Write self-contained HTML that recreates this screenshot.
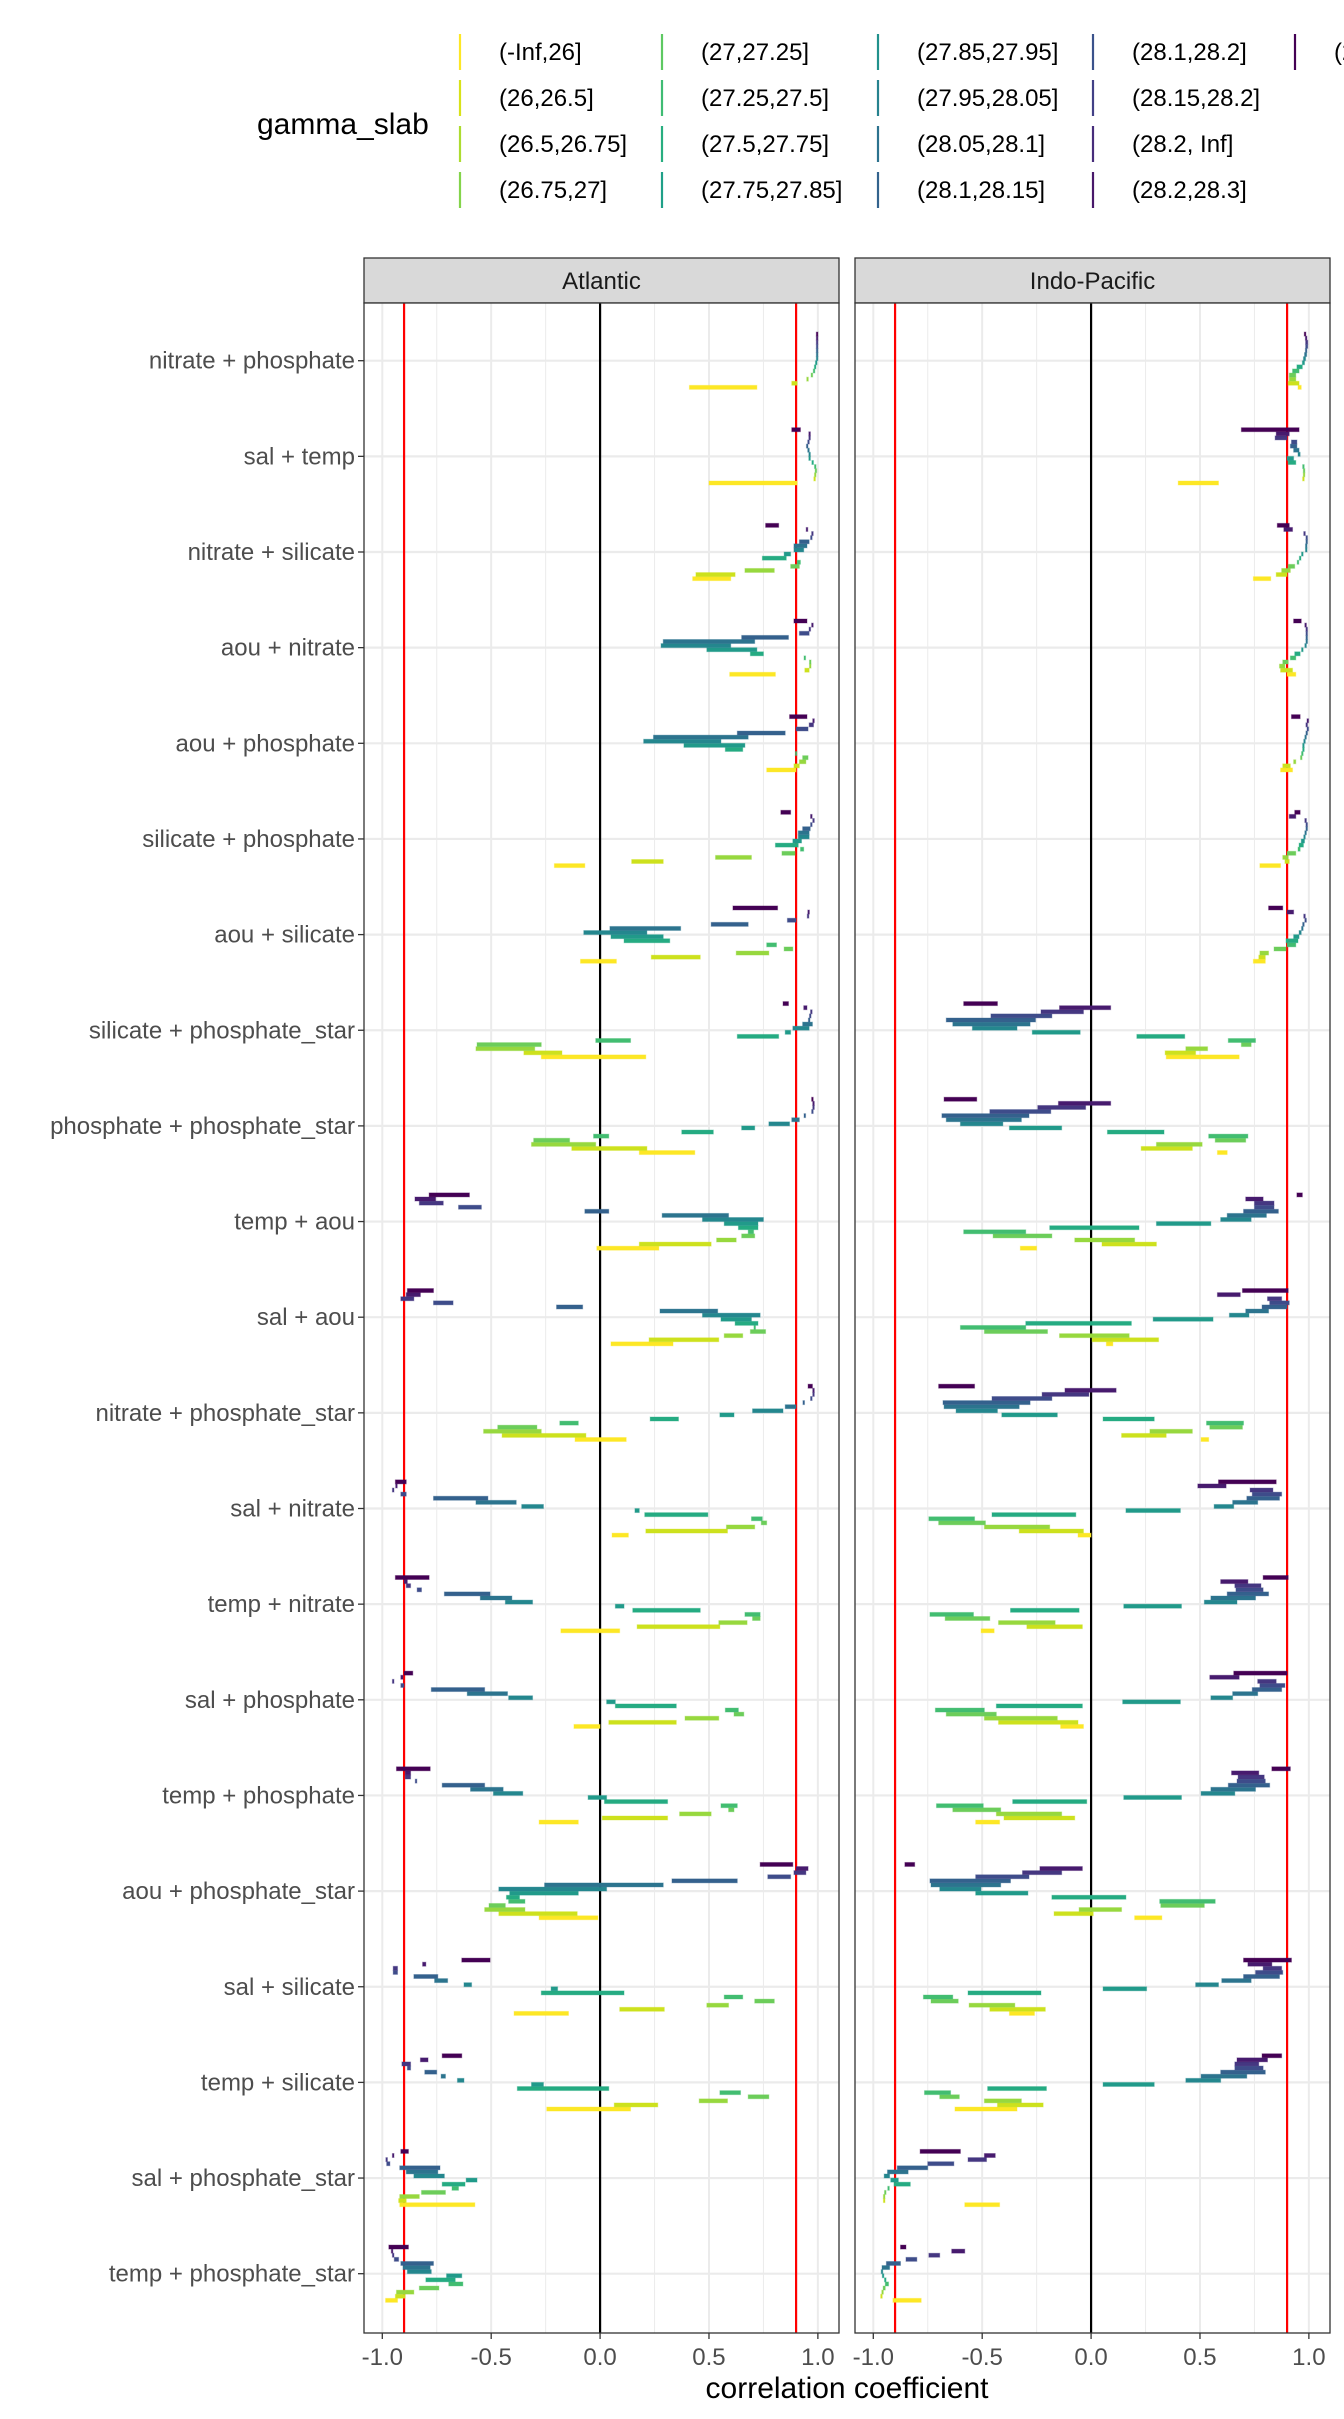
<!DOCTYPE html>
<html><head><meta charset="utf-8"><style>
html,body{margin:0;padding:0;background:#fff;}
svg{display:block;font-family:"Liberation Sans",Arial,sans-serif;}
</style></head><body>
<svg id="chart" width="1344" height="2419" viewBox="0 0 1344 2419" xmlns="http://www.w3.org/2000/svg">
<g id="legend"></g>
<g id="panels"></g>
<text x="847" y="2398" font-size="30" fill="#000" text-anchor="middle">correlation coefficient</text>
</svg>
<script>
const categories = ["nitrate + phosphate","sal + temp","nitrate + silicate","aou + nitrate","aou + phosphate","silicate + phosphate","aou + silicate","silicate + phosphate_star","phosphate + phosphate_star","temp + aou","sal + aou","nitrate + phosphate_star","sal + nitrate","temp + nitrate","sal + phosphate","temp + phosphate","aou + phosphate_star","sal + silicate","temp + silicate","sal + phosphate_star","temp + phosphate_star"];
const basins = ["Atlantic","Indo-Pacific"];
const legendLevels = ["(-Inf,26]","(26,26.5]","(26.5,26.75]","(26.75,27]","(27,27.25]","(27.25,27.5]","(27.5,27.75]","(27.75,27.85]","(27.85,27.95]","(27.95,28.05]","(28.05,28.1]","(28.1,28.15]","(28.1,28.2]","(28.15,28.2]","(28.2, Inf]","(28.2,28.3]","(28.3, Inf]"];
const legendColors = ["#fde725","#d8e219","#addc30","#84d44b","#5ec962","#3fbc73","#28ae80","#1fa088","#21918c","#26828e","#2c728e","#33638d","#3b528b","#424086","#472d7b","#48186a","#440154"];
const barColors = ["#fde725","#cde11d","#97d83e","#6ccd5a","#42bd71","#25ab82","#219a8a","#24878e","#2c748e","#34618d","#3e4c8a","#453781","#471b6e","#440154"];
const xTicks = [-1,-0.5,0,0.5,1];
const xTickLabels = ["-1.0","-0.5","0.0","0.5","1.0"];
const xMinor = [-0.75,-0.25,0.25,0.75];
const refLines = [-0.9,0.9];
const atlanticRanges = [
[[.41,.72],[.88,.905],[.95,.955],[.97,.975],[.98,.985],[.985,.99],[.99,.995],[.995,.998],[.995,.998],[.995,.998],[.995,.998],[.995,.998],[.995,.998],[.995,.998]],
[[.5,.905],[.985,.985],[.988,.988],[.991,.991],[.988,.988],[.976,.976],[.962,.962],[.962,.962],[.957,.957],[.951,.951],[.957,.957],[.962,.962],[.962,.962],[.88,.92]],
[[.425,.6],[.44,.62],[.665,.8],[.875,.915],[.905,.92],[.745,.855],[.845,.875],[.89,.935],[.89,.95],[.915,.96],[.97,.97],[.975,.975],[.95,.95],[.76,.82]],
[[.595,.805],[.94,.96],[.965,.965],[.965,.965],[.94,.94],[.69,.75],[.49,.72],[.28,.6],[.29,.71],[.65,.865],[.915,.96],[.963,.963],[.975,.975],[.89,.95]],
[[.765,.9],[.89,.915],[.915,.945],[.93,.955],[.9,.9],[.575,.655],[.385,.665],[.2,.555],[.245,.68],[.63,.85],[.9,.955],[.96,.98],[.98,.98],[.87,.95]],
[[-.21,-.07],[.145,.29],[.53,.695],[.835,.895],[.92,.935],[.805,.91],[.885,.925],[.91,.96],[.91,.96],[.93,.965],[.97,.97],[.98,.98],[.97,.97],[.83,.875]],
[[-.09,.075],[.235,.46],[.625,.775],[.845,.885],[.765,.81],[.11,.32],[.05,.29],[-.075,.215],[.045,.37],[.51,.68],[.86,.9],[.955,.955],[.955,.96],[.61,.815]],
[[-.27,.21],[-.35,-.175],[-.57,-.3],[-.565,-.27],[-.02,.14],[.63,.82],[.85,.875],[.885,.96],[.93,.975],[.96,.96],[.965,.965],[.97,.97],[.935,.95],[.84,.865]],
[[.18,.435],[-.13,.215],[-.315,-.02],[-.305,-.14],[-.03,.04],[.375,.52],[.65,.71],[.775,.87],[.88,.915],[.94,.94],[.975,.975],[.98,.98],[.98,.98],[.975,.975]],
[[-.015,.27],[.18,.51],[.535,.625],[.65,.71],[.68,.705],[.635,.725],[.57,.725],[.47,.75],[.285,.59],[-.07,.04],[-.65,-.545],[-.83,-.72],[-.85,-.755],[-.785,-.6]],
[[.05,.335],[.225,.545],[.57,.655],[.69,.76],[.71,.71],[.62,.725],[.555,.695],[.47,.735],[.275,.54],[-.2,-.08],[-.765,-.675],[-.915,-.855],[-.89,-.825],[-.885,-.765]],
[[-.115,.12],[-.45,-.065],[-.535,-.27],[-.47,-.29],[-.185,-.1],[.23,.36],[.55,.615],[.7,.84],[.85,.9],[.935,.935],[.97,.97],[.98,.98],[.98,.98],[.955,.975]],
[[.055,.13],[.21,.585],[.58,.71],[.74,.765],[.695,.745],[.205,.495],[.16,.18],[-.36,-.26],[-.57,-.385],[-.765,-.515],[-.915,-.89],[-.95,-.95],[-.935,-.935],[-.94,-.89]],
[[-.18,.09],[.17,.55],[.545,.675],[.7,.735],[.665,.735],[.15,.46],[.07,.11],[-.435,-.31],[-.55,-.405],[-.715,-.505],[-.84,-.82],[-.89,-.87],[-.9,-.885],[-.94,-.785]],
[[-.12,0],[.04,.35],[.39,.545],[.615,.66],[.575,.635],[.07,.35],[.03,.07],[-.42,-.31],[-.61,-.425],[-.775,-.53],[-.915,-.9],[-.95,-.95],[-.915,-.905],[-.9,-.86]],
[[-.28,-.1],[.01,.31],[.365,.51],[.59,.615],[.555,.63],[.02,.31],[-.055,.03],[-.49,-.355],[-.595,-.445],[-.725,-.53],[-.845,-.845],[-.895,-.87],[-.895,-.87],[-.935,-.78]],
[[-.28,-.01],[-.465,-.105],[-.53,-.345],[-.51,-.435],[-.42,-.345],[-.43,-.37],[-.415,-.1],[-.465,.03],[-.255,.29],[.33,.63],[.77,.875],[.89,.945],[.9,.955],[.735,.885]],
[[-.395,-.145],[.09,.295],[.49,.59],[.71,.8],[.57,.655],[-.27,.11],[-.225,-.195],[-.625,-.59],[-.76,-.7],[-.855,-.745],[-.95,-.93],[-.95,-.93],[-.815,-.8],[-.635,-.505]],
[[-.245,.14],[.065,.265],[.455,.585],[.68,.775],[.55,.645],[-.38,.04],[-.315,-.26],[-.655,-.625],[-.73,-.71],[-.805,-.75],[-.885,-.87],[-.91,-.87],[-.825,-.79],[-.725,-.635]],
[[-.92,-.575],[-.925,-.89],[-.92,-.83],[-.82,-.71],[-.68,-.65],[-.725,-.62],[-.615,-.565],[-.855,-.715],[-.89,-.745],[-.92,-.735],[-.98,-.965],[-.98,-.98],[-.95,-.95],[-.915,-.88]],
[[-.985,-.93],[-.94,-.895],[-.935,-.855],[-.83,-.74],[-.695,-.63],[-.8,-.665],[-.705,-.635],[-.885,-.775],[-.905,-.78],[-.915,-.765],[-.945,-.925],[-.95,-.95],[-.955,-.955],[-.97,-.88]]
];
const indoRanges = [
[[.95,.965],[.905,.955],[.91,.94],[.91,.94],[.925,.955],[.945,.97],[.97,.98],[.975,.985],[.98,.99],[.985,.99],[.985,.995],[.985,.995],[.985,.99],[.98,.985]],
[[.4,.585],[.975,.975],[.978,.978],[.978,.978],[.975,.975],[.905,.94],[.9,.93],[.95,.96],[.93,.955],[.915,.945],[.92,.945],[.845,.9],[.85,.91],[.69,.955]],
[[.745,.825],[.85,.9],[.875,.915],[.905,.935],[.95,.95],[.96,.96],[.97,.97],[.988,.988],[.988,.988],[.99,.99],[.99,.99],[.98,.98],[.885,.925],[.855,.91]],
[[.9,.94],[.87,.925],[.865,.89],[.88,.905],[.915,.94],[.935,.96],[.97,.97],[.985,.985],[.99,.99],[.99,.99],[.99,.99],[.99,.99],[.985,.985],[.93,.965]],
[[.87,.925],[.88,.915],[.93,.94],[.965,.965],[.97,.97],[.975,.975],[.975,.975],[.98,.98],[.985,.985],[.99,.99],[.995,.995],[.99,.99],[.995,.995],[.92,.96]],
[[.775,.87],[.89,.91],[.88,.905],[.9,.94],[.95,.96],[.955,.975],[.965,.98],[.98,.98],[.985,.985],[.99,.99],[.99,.99],[.985,.985],[.91,.94],[.935,.96]],
[[.745,.8],[.77,.8],[.775,.815],[.84,.895],[.9,.94],[.895,.95],[.93,.955],[.955,.965],[.97,.97],[.975,.975],[.985,.985],[.98,.98],[.9,.93],[.815,.88]],
[[.345,.68],[.34,.48],[.435,.535],[.69,.735],[.63,.755],[.21,.43],[-.27,-.05],[-.545,-.34],[-.635,-.28],[-.665,-.255],[-.46,-.18],[-.23,-.035],[-.145,.09],[-.585,-.43]],
[[.58,.625],[.23,.465],[.3,.51],[.57,.71],[.54,.72],[.075,.335],[-.375,-.135],[-.6,-.405],[-.665,-.32],[-.685,-.285],[-.465,-.185],[-.245,-.025],[-.15,.09],[-.675,-.525]],
[[-.325,-.25],[.05,.3],[-.075,.2],[-.45,-.18],[-.585,-.3],[-.19,.22],[.3,.55],[.595,.735],[.625,.805],[.7,.86],[.75,.84],[.75,.84],[.71,.79],[.945,.97]],
[[.07,.1],[.005,.31],[-.145,.175],[-.49,-.2],[-.6,-.3],[-.3,.185],[.285,.56],[.635,.725],[.71,.815],[.785,.9],[.82,.91],[.81,.875],[.58,.685],[.695,.905]],
[[.505,.54],[.14,.345],[.27,.465],[.545,.695],[.53,.7],[.055,.29],[-.41,-.155],[-.62,-.43],[-.675,-.33],[-.68,-.28],[-.455,-.18],[-.225,-.01],[-.12,.115],[-.7,-.535]],
[[-.06,0],[-.33,-.035],[-.49,-.19],[-.7,-.485],[-.745,-.535],[-.455,-.07],[.16,.41],[.565,.655],[.65,.765],[.715,.865],[.74,.875],[.73,.835],[.49,.62],[.585,.85]],
[[-.505,-.445],[-.295,-.04],[-.425,-.165],[-.67,-.465],[-.74,-.54],[-.37,-.055],[.15,.415],[.52,.67],[.55,.755],[.625,.815],[.665,.79],[.66,.78],[.595,.72],[.79,.905]],
[[-.14,-.035],[-.425,-.06],[-.49,-.155],[-.665,-.435],[-.715,-.49],[-.435,-.04],[.145,.41],[.55,.65],[.65,.765],[.74,.875],[.775,.89],[.765,.85],[.545,.68],[.655,.9]],
[[-.53,-.42],[-.4,-.075],[-.435,-.135],[-.635,-.415],[-.71,-.495],[-.36,-.02],[.15,.415],[.505,.66],[.55,.755],[.63,.82],[.67,.8],[.675,.795],[.645,.77],[.83,.915]],
[[.2,.325],[-.17,.01],[-.055,.14],[.32,.52],[.315,.57],[-.18,.16],[-.53,-.29],[-.695,-.505],[-.735,-.415],[-.74,-.37],[-.53,-.285],[-.315,-.135],[-.235,-.04],[-.855,-.81]],
[[-.375,-.26],[-.465,-.21],[-.56,-.35],[-.735,-.61],[-.77,-.635],[-.565,-.23],[.055,.255],[.48,.585],[.6,.735],[.7,.865],[.755,.88],[.79,.875],[.72,.83],[.7,.92]],
[[-.625,-.34],[-.43,-.22],[-.49,-.32],[-.695,-.605],[-.765,-.645],[-.475,-.205],[.055,.29],[.435,.595],[.505,.715],[.595,.8],[.66,.79],[.66,.77],[.67,.81],[.785,.875]],
[[-.58,-.42],[-.95,-.95],[-.95,-.95],[-.945,-.945],[-.93,-.93],[-.905,-.83],[-.92,-.885],[-.95,-.925],[-.935,-.84],[-.89,-.75],[-.75,-.63],[-.565,-.48],[-.49,-.44],[-.785,-.6]],
[[-.91,-.78],[-.965,-.96],[-.96,-.955],[-.955,-.945],[-.945,-.93],[-.945,-.945],[-.955,-.955],[-.96,-.96],[-.96,-.925],[-.94,-.875],[-.85,-.8],[-.745,-.695],[-.64,-.58],[-.875,-.85]]
];

const NS = "http://www.w3.org/2000/svg";
function mk(tag, attrs, parent){const e=document.createElementNS(NS,tag);for(const k in attrs)e.setAttribute(k,attrs[k]);parent.appendChild(e);return e;}
const panelLeft=[364,855], panelW=475, panelTop=303, panelBottom=2333;
const xMin=-1.084, xMax=1.097;
function xScale(p,v){return panelLeft[p]+(v-xMin)/(xMax-xMin)*panelW;}
const rowStart=360.7, rowStep=95.65, levelStep=4.1;
function yRow(r){return rowStart+rowStep*r;}
function yBar(r,k){return yRow(r)+(6.5-k)*levelStep;}

const lg=document.getElementById('legend');
const lt=mk('text',{x:257,y:134,'font-size':30,fill:'#000'},lg);
lt.textContent='gamma_slab';


const keyX=[460,662,878,1093,1295], rowY=[52,98,144,190];
legendLevels.forEach((lab,i)=>{
  const c=Math.floor(i/4), r=i%4;
  const g=mk('g',{},lg);
  
  
  mk('line',{x1:keyX[c],x2:keyX[c],y1:rowY[r]-18,y2:rowY[r]+18,stroke:legendColors[i],'stroke-width':2.2},g);
  const t=mk('text',{x:keyX[c]+39,y:rowY[r]+8,'font-size':24,fill:'#000'},g);
  t.textContent=lab;
});

const pg=document.getElementById('panels');
const allRanges=[atlanticRanges,indoRanges];
basins.forEach((b,p)=>{
  const L=panelLeft[p];
  const g=mk('g',{},pg);
  
  
  const st=mk('rect',{x:L,y:258,width:panelW,height:45,fill:'#d9d9d9',stroke:'#333','stroke-width':1.3},g);
  
  
  const stt=mk('text',{x:L+panelW/2,y:289,'font-size':24,fill:'#1a1a1a','text-anchor':'middle'},g);
  stt.textContent=b;
  
  
  mk('rect',{x:L,y:panelTop,width:panelW,height:panelBottom-panelTop,fill:'#fff'},g);
  xMinor.forEach(v=>mk('line',{x1:xScale(p,v),x2:xScale(p,v),y1:panelTop,y2:panelBottom,stroke:'#ebebeb','stroke-width':1},g));
  xTicks.forEach(v=>mk('line',{x1:xScale(p,v),x2:xScale(p,v),y1:panelTop,y2:panelBottom,stroke:'#ebebeb','stroke-width':2},g));
  categories.forEach((c,r)=>mk('line',{x1:L,x2:L+panelW,y1:yRow(r),y2:yRow(r),stroke:'#ebebeb','stroke-width':2.2},g));
  const z=mk('line',{x1:xScale(p,0),x2:xScale(p,0),y1:panelTop,y2:panelBottom,stroke:'#000','stroke-width':2.2},g);
  
  
  refLines.forEach(v=>{
    const l=mk('line',{x1:xScale(p,v),x2:xScale(p,v),y1:panelTop,y2:panelBottom,stroke:'#ff0000','stroke-width':2.2},g);
    
    
  });
  const data=allRanges[p];
  data.forEach((row,r)=>{
    row.forEach((rg,k)=>{
      const x1=xScale(p,rg[0]), x2=xScale(p,rg[1]);
      const w=Math.max(x2-x1,1.6);
      const bar=mk('rect',{x:x2-x1<1.6?(x1+x2)/2-0.8:x1,y:yBar(r,k)-2,width:w,height:4,fill:barColors[k],stroke:barColors[k],'stroke-opacity':0.35,'stroke-width':1},g);
      
      
    });
  });
  mk('rect',{x:L,y:panelTop,width:panelW,height:panelBottom-panelTop,fill:'none',stroke:'#333','stroke-width':1.3},g);
  xTicks.forEach((v,i)=>{
    mk('line',{x1:xScale(p,v),x2:xScale(p,v),y1:panelBottom,y2:panelBottom+6,stroke:'#333','stroke-width':1.3},g);
    const t=mk('text',{x:xScale(p,v),y:2365,'font-size':24,fill:'#4d4d4d','text-anchor':'middle'},g);
    t.textContent=xTickLabels[i];
    
    
  });
});
categories.forEach((c,r)=>{
  mk('line',{x1:358,x2:364,y1:yRow(r),y2:yRow(r),stroke:'#333','stroke-width':1.3},pg);
  const t=mk('text',{x:355,y:yRow(r)+8,'font-size':24,fill:'#4d4d4d','text-anchor':'end'},pg);
  t.textContent=c;
  
  
});
</script>
</body></html>
